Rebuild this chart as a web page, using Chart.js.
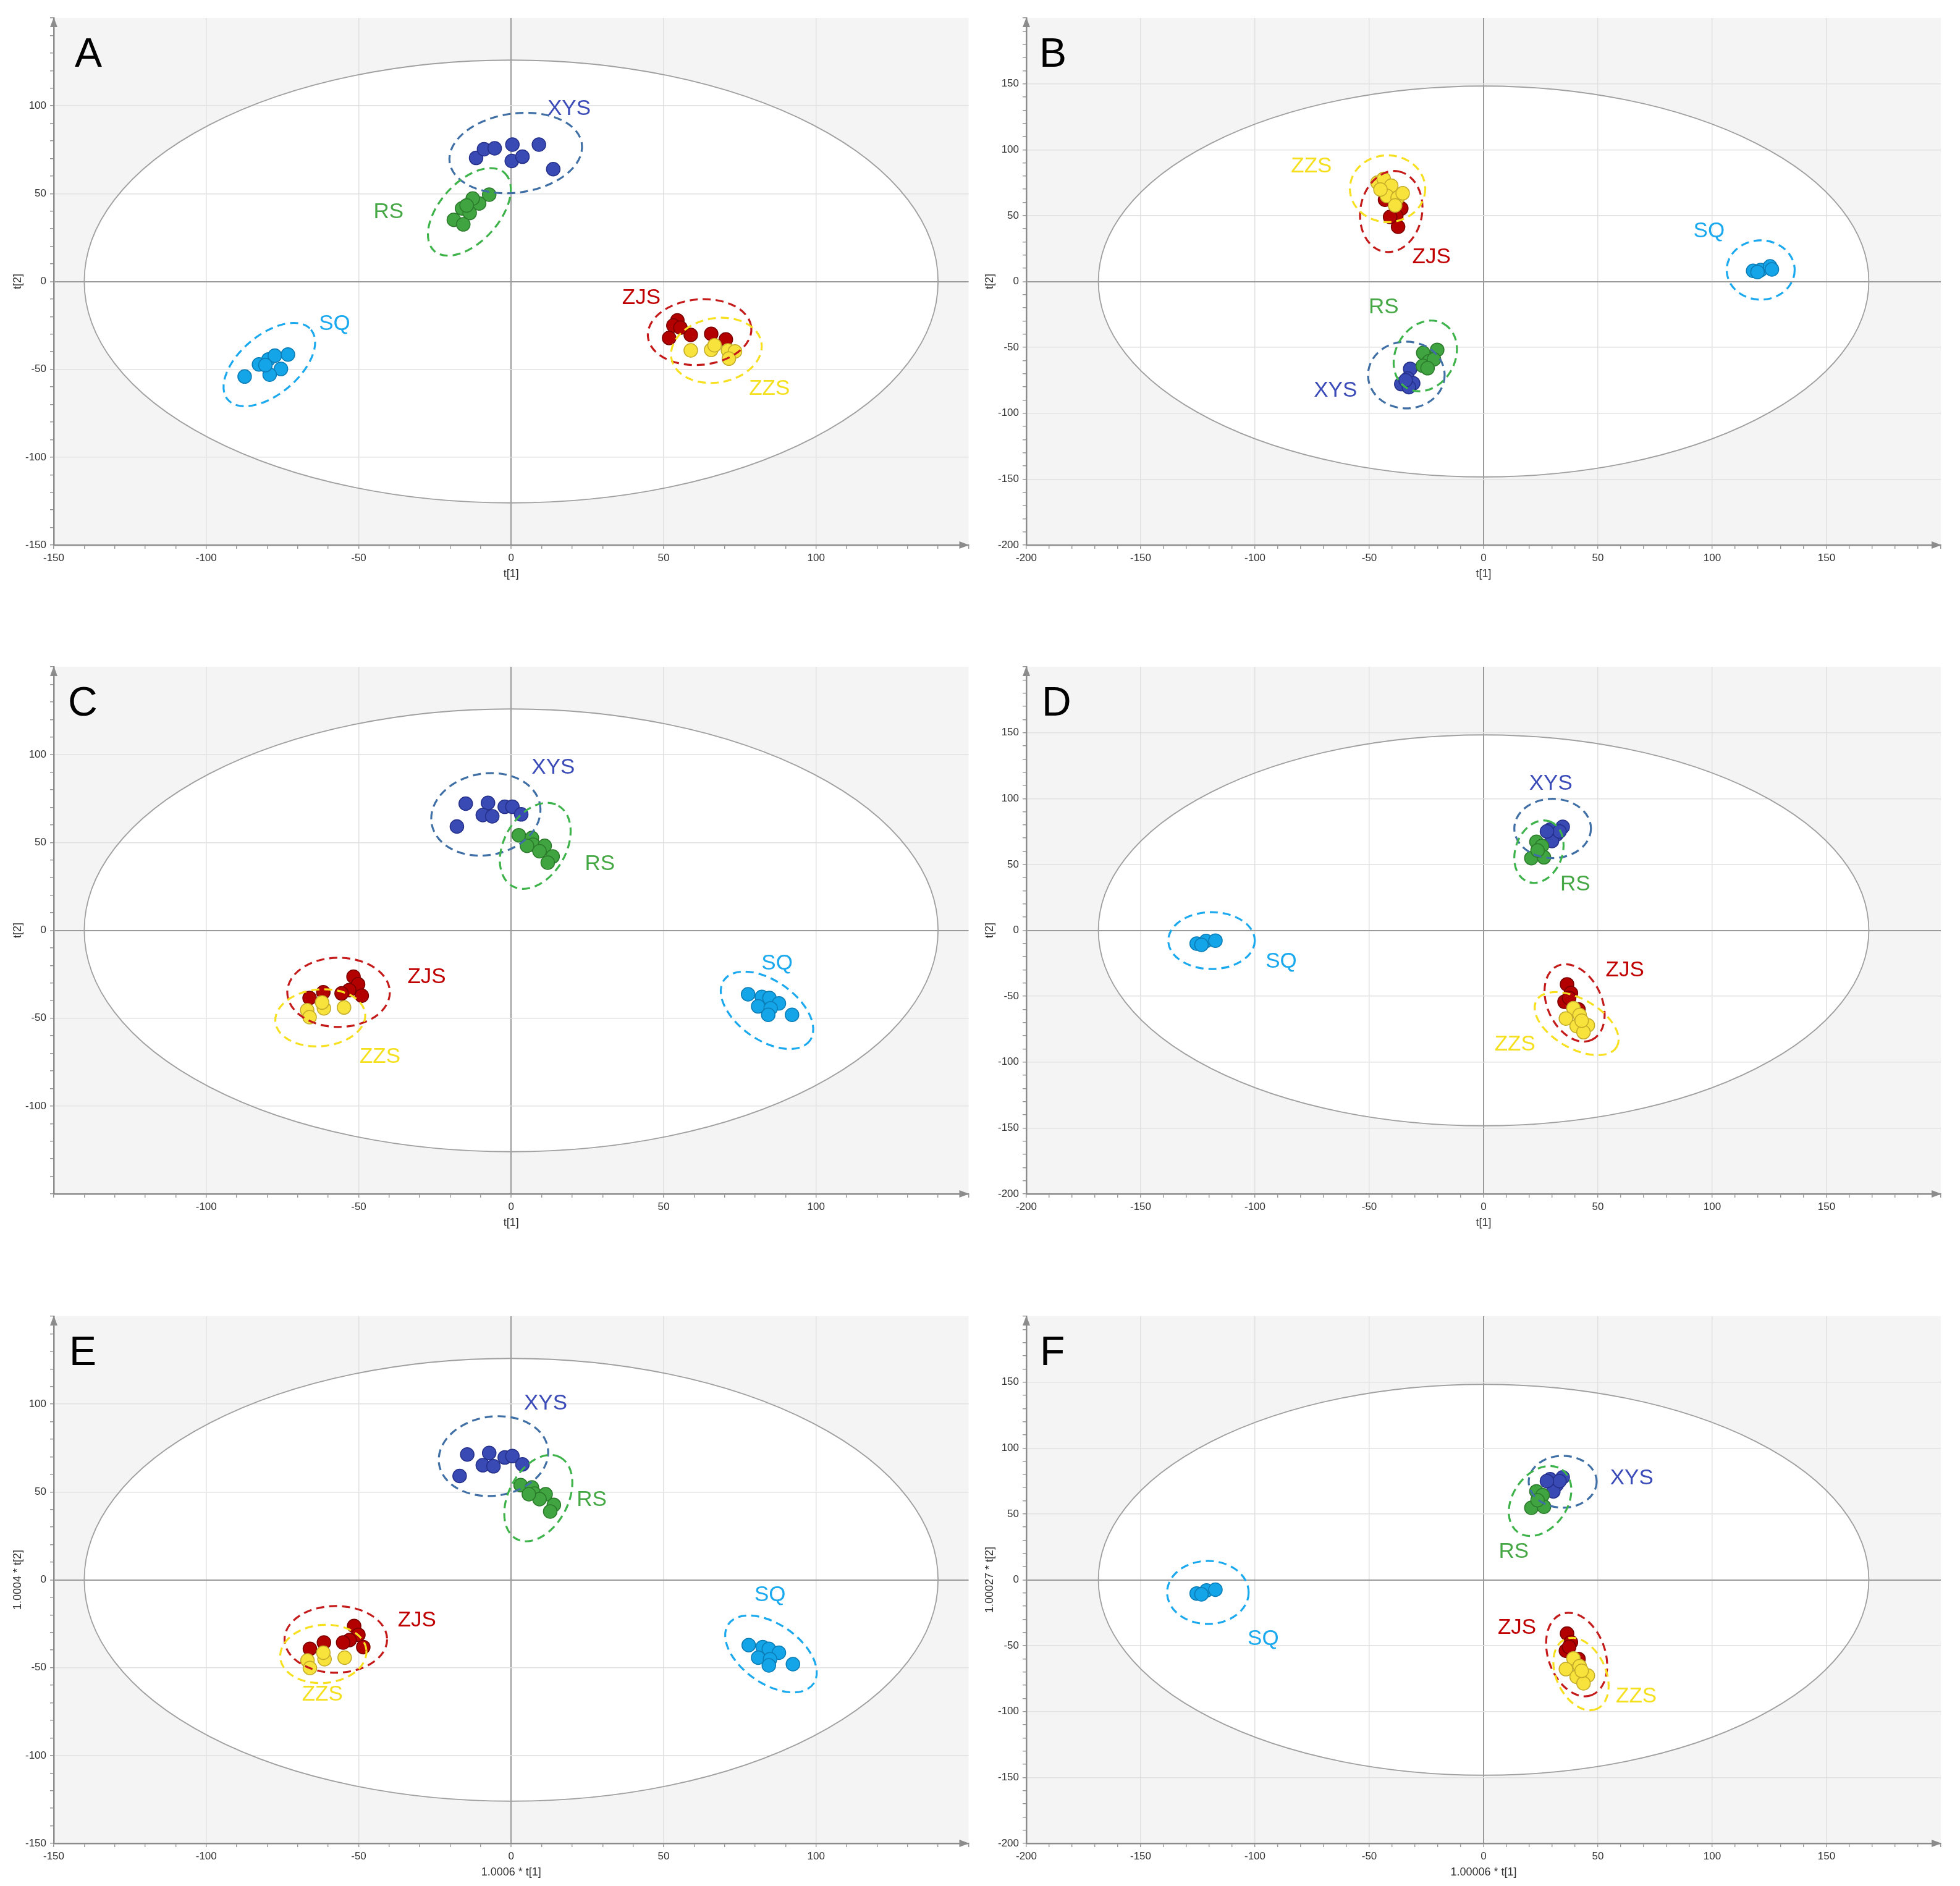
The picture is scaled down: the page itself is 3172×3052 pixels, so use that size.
<!DOCTYPE html>
<html><head><meta charset="utf-8">
<script src="https://cdn.jsdelivr.net/npm/chart.js@4.4.0/dist/chart.umd.min.js"></script>
<style>
html,body{margin:0;padding:0;background:#fff;}
body{width:3172px;height:3052px;position:relative;overflow:hidden;}
canvas{position:absolute;}
</style></head><body>
<script>
// ---------------- DATA ----------------
const groups = ['ZZS','ZJS','RS','XYS','SQ'];

// Panel A
const A_XYS = [[-11.5,70.3],[-8.9,75.3],[-5.4,75.8],[0.4,77.9],[9.1,77.9],[0.2,68.6],[3.7,71.0],[13.8,63.9]];
const A_RS  = [[-7.2,49.4],[-10.5,44.4],[-12.6,47.2],[-16.1,41.6],[-13.6,39.0],[-18.8,35.1],[-15.7,32.5],[-14.6,43.3]];
const A_SQ  = [[-87.4,-54.1],[-82.7,-47.2],[-79.6,-44.4],[-77.5,-42.2],[-73.2,-41.6],[-75.5,-49.8],[-79.2,-53.0],[-80.6,-47.6]];
const A_ZJS = [[54.5,-22.2],[53.2,-25.1],[51.8,-32.2],[58.9,-30.4],[65.6,-29.8],[70.4,-33.0],[55.5,-26.3]];
const A_ZZS = [[58.9,-39.2],[65.6,-38.9],[66.7,-36.3],[71.1,-39.2],[73.4,-39.8],[71.4,-43.9]];

// Panel B
const B_XYS = [[-32.1,-66.3],[-33.2,-73.6],[-36.0,-77.9],[-30.8,-77.3],[-32.7,-80.2],[-34.1,-75.0]];
const B_RS  = [[-20.3,-51.9],[-26.4,-54.2],[-23.9,-60.6],[-26.6,-64.0],[-21.7,-59.1],[-24.5,-65.8]];
const B_SQ  = [[117.9,8.1],[121.2,8.7],[125.3,11.5],[126.1,9.2],[119.8,7.2]];
const B_ZJS = [[-44.2,71.5],[-36.0,55.4],[-38.2,49.6],[-37.4,41.5],[-40.9,49.0],[-43.1,62.0]];
const B_ZZS = [[-46.4,75.0],[-43.7,77.9],[-40.4,72.7],[-42.3,64.9],[-37.6,63.5],[-35.4,66.9],[-38.7,57.7],[-45.1,69.8]];

// Panel C
const C_XYS = [[-14.9,72.1],[-7.6,72.5],[-9.3,65.6],[-6.2,64.9],[-2.1,70.3],[0.4,70.3],[3.3,66.0],[-17.8,59.1]];
const C_RS  = [[2.5,54.1],[6.8,52.6],[7.2,48.7],[11.0,48.1],[9.3,45.0],[13.6,42.0],[12.0,38.5],[5.2,48.1]];
const C_SQ  = [[77.7,-36.4],[82.2,-37.9],[84.7,-38.5],[87.8,-41.6],[81.0,-43.3],[85.1,-44.4],[84.3,-48.1],[92.1,-48.1]];
const C_ZJS = [[-51.7,-26.4],[-50.2,-30.7],[-53.1,-34.0],[-49.0,-37.2],[-55.6,-35.9],[-61.6,-35.3],[-66.1,-38.5]];
const C_ZZS = [[-54.8,-43.9],[-61.4,-44.4],[-62.0,-41.1],[-66.9,-45.5],[-66.1,-49.4]];

// Panel D
const D_XYS = [[29.1,76.4],[34.6,78.5],[31.9,72.7],[29.9,67.8],[33.2,75.0],[27.7,75.0]];
const D_RS  = [[23.1,67.2],[25.5,64.0],[20.9,54.8],[26.4,55.4],[23.6,60.6]];
const D_SQ  = [[-125.5,-10.1],[-121.4,-8.1],[-117.3,-7.8],[-123.4,-11.0]];
const D_ZJS = [[36.5,-41.0],[38.2,-47.6],[35.4,-54.2],[41.5,-60.0],[37.4,-51.3]];
const D_ZZS = [[39.3,-59.1],[36.0,-66.9],[42.0,-64.3],[40.7,-72.7],[45.6,-72.1],[43.7,-77.3],[42.9,-68.6]];

// Panel E
const E_XYS = [[-14.4,71.3],[-7.2,72.2],[-9.3,65.2],[-5.8,64.6],[-2.1,69.6],[0.4,70.4],[3.7,65.7],[-16.9,59.1]];
const E_RS  = [[3.1,53.9],[6.8,52.6],[7.6,49.1],[11.3,48.7],[9.3,45.9],[14.0,42.6],[12.8,38.9],[5.8,48.7]];
const E_SQ  = [[77.9,-37.2],[82.5,-38.3],[84.5,-39.3],[87.8,-41.5],[81.0,-44.3],[84.9,-45.2],[84.5,-48.7],[92.4,-48.0]];
const E_ZJS = [[-51.5,-26.3],[-50.1,-31.3],[-53.0,-34.3],[-48.5,-38.3],[-55.1,-35.7],[-61.4,-35.7],[-66.0,-39.3]];
const E_ZZS = [[-54.6,-44.3],[-61.2,-45.2],[-61.6,-41.5],[-66.8,-45.9],[-66.0,-50.2]];

// Panel F
const F_XYS = [[29.1,76.3],[34.6,77.7],[31.9,72.0],[30.5,67.1],[33.2,74.9],[27.7,74.9]];
const F_RS  = [[23.1,67.1],[25.8,64.2],[20.9,54.6],[26.4,55.5],[23.6,60.4]];
const F_SQ  = [[-125.5,-10.4],[-121.2,-8.1],[-117.3,-7.5],[-123.4,-11.0]];
const F_ZJS = [[36.5,-40.8],[38.2,-47.4],[36.0,-53.8],[41.5,-60.1],[37.4,-51.0]];
const F_ZZS = [[39.3,-59.7],[36.0,-67.8],[42.0,-65.5],[40.7,-73.6],[45.6,-72.7],[43.7,-78.5],[42.9,-69.1]];

// Tick labels
const ticks150 = [-150,-100,-50,0,50,100];
const ticks100 = [-100,-50,0,50,100];
const ticks200 = [-200,-150,-100,-50,0,50,100,150];

// Hotelling T2 ellipse semi-axes (t1, t2)
const t2A = [140,126], t2B = [168.5,148.3];

// Group label anchor points (data coordinates)
const labA = {XYS:[19.0,98.3], RS:[-40.2,39.6], SQ:[-57.9,-24.2], ZJS:[42.7,-9.3], ZZS:[84.7,-61.0]};
const labB = {XYS:[-64.8,-83.1], RS:[-43.7,-19.6], SQ:[98.6,38.1], ZJS:[-22.8,18.5], ZZS:[-75.3,87.4]};
const labC = {XYS:[13.8,92.6], RS:[29.1,37.7], SQ:[87.2,-19.0], ZJS:[-27.7,-26.8], ZZS:[-43.0,-71.9]};
const labD = {XYS:[29.4,111.0], RS:[40.1,34.6], SQ:[-88.5,-23.9], ZJS:[61.8,-30.3], ZZS:[13.7,-86.5]};
const labE = {XYS:[11.3,100.4], RS:[26.4,45.4], SQ:[84.9,-8.9], ZJS:[-30.9,-23.0], ZZS:[-61.9,-65.4]};
const labF = {XYS:[64.8,77.1], RS:[13.2,21.4], SQ:[-96.4,-45.1], ZJS:[14.6,-36.5], ZZS:[66.8,-88.7]};

// Group confidence ellipse centres (data coordinates)
const ctrA = {XYS:[1.5,73.1], RS:[-13.7,39.6], SQ:[-79.3,-47.3], ZJS:[61.8,-28.8], ZZS:[67.3,-39.2]};
const ctrB = {XYS:[-33.8,-71.0], RS:[-25.5,-56.5], SQ:[121.2,8.7], ZJS:[-40.4,53.1], ZZS:[-42.0,70.4]};
const ctrC = {XYS:[-8.3,66.0], RS:[7.9,48.1], SQ:[83.9,-45.5], ZJS:[-56.6,-35.3], ZZS:[-62.6,-49.8]};
const ctrD = {XYS:[30.2,77.3], RS:[24.2,59.7], SQ:[-119,-7.8], ZJS:[39.8,-55.1], ZZS:[40.7,-70.8]};
const ctrE = {XYS:[-5.8,70.4], RS:[8.9,46.5], SQ:[85.2,-42.2], ZJS:[-57.5,-33.9], ZZS:[-61.6,-42.2]};
const ctrF = {XYS:[34.6,74.4], RS:[24.7,59.8], SQ:[-120.6,-9.6], ZJS:[40.7,-56.7], ZZS:[42.6,-71.5]};

// ---------------- STYLE ----------------
const style = {
  XYS:{fill:'#3a4ab5', border:'#24308a', text:'#3b4bb8', dash:'#3f6fa5'},
  RS: {fill:'#40a540', border:'#2b7a2b', text:'#45a845', dash:'#3db34a'},
  SQ: {fill:'#14a4e8', border:'#0b7cb5', text:'#1aa9ee', dash:'#1aa9ee'},
  ZJS:{fill:'#b30000', border:'#7a0000', text:'#c00000', dash:'#c41a1a'},
  ZZS:{fill:'#f7e33b', border:'#c4ac2a', text:'#f5e020', dash:'#f7e020'}
};
// ellipse shapes in px: [semi-major, semi-minor, rotation deg]
const shpA = {XYS:[108,64,-8], RS:[85,48,-48], SQ:[88,48,-40], ZJS:[84,53,-5], ZZS:[74,52,-10]};
const shpB = {XYS:[62,54,0], RS:[60,48,-60], SQ:[55,48,0], ZJS:[66,50,-80], ZZS:[61,54,0]};
const shpC = {XYS:[89,66,-10], RS:[75,50,-60], SQ:[85,48,35], ZJS:[83,56,0], ZZS:[73,46,-5]};
const shpD = {XYS:[62,48,0], RS:[52,38,-70], SQ:[70,46,0], ZJS:[66,44,65], ZZS:[75,40,30]};
const shpE = {XYS:[89,64,-8], RS:[75,48,-62], SQ:[84,48,35], ZJS:[83,54,0], ZZS:[70,47,-5]};
const shpF = {XYS:[55,42,0], RS:[62,44,-55], SQ:[66,51,0], ZJS:[70,46,70], ZZS:[62,40,65]};

const FONT = "'Liberation Sans', Arial, sans-serif";

const panels = [
  {L:'A', left:0,    top:0,    w:1580, yW:87, rp:12, xr:[-150,150], yr:[-150,150], t2:t2A, xt:'t[1]', yt:'t[2]', xl:ticks150, yl:ticks150, pts:{XYS:A_XYS,RS:A_RS,SQ:A_SQ,ZJS:A_ZJS,ZZS:A_ZZS}, lab:labA, ctr:ctrA, shp:shpA, ldx:34, ypad:18},
  {L:'B', left:1580, top:0,    w:1592, yW:81, rp:31, xr:[-200,200], yr:[-200,200], t2:t2B, xt:'t[1]', yt:'t[2]', xl:ticks200, yl:ticks200, pts:{XYS:B_XYS,RS:B_RS,SQ:B_SQ,ZJS:B_ZJS,ZZS:B_ZZS}, lab:labB, ctr:ctrB, shp:shpB, ldx:21, ypad:11},
  {L:'C', left:0,    top:1050, w:1580, yW:87, rp:12, xr:[-150,150], yr:[-150,150], t2:t2A, xt:'t[1]', yt:'t[2]', xl:ticks100, yl:ticks100, pts:{XYS:C_XYS,RS:C_RS,SQ:C_SQ,ZJS:C_ZJS,ZZS:C_ZZS}, lab:labC, ctr:ctrC, shp:shpC, ldx:23, ypad:18},
  {L:'D', left:1580, top:1050, w:1592, yW:81, rp:31, xr:[-200,200], yr:[-200,200], t2:t2B, xt:'t[1]', yt:'t[2]', xl:ticks200, yl:ticks200, pts:{XYS:D_XYS,RS:D_RS,SQ:D_SQ,ZJS:D_ZJS,ZZS:D_ZZS}, lab:labD, ctr:ctrD, shp:shpD, ldx:25, ypad:11},
  {L:'E', left:0,    top:2101, w:1580, yW:87, rp:12, xr:[-150,150], yr:[-150,150], t2:t2A, xt:'1.0006 * t[1]', yt:'1.0004 * t[2]', xl:ticks150, yl:ticks150, pts:{XYS:E_XYS,RS:E_RS,SQ:E_SQ,ZJS:E_ZJS,ZZS:E_ZZS}, lab:labE, ctr:ctrE, shp:shpE, ldx:25, ypad:18},
  {L:'F', left:1580, top:2101, w:1592, yW:81, rp:31, xr:[-200,200], yr:[-200,200], t2:t2B, xt:'1.00006 * t[1]', yt:'1.00027 * t[2]', xl:ticks200, yl:ticks200, pts:{XYS:F_XYS,RS:F_RS,SQ:F_SQ,ZJS:F_ZJS,ZZS:F_ZZS}, lab:labF, ctr:ctrF, shp:shpF, ldx:22, ypad:11}
];

const decor = {
  id:'decor',
  beforeDraw(chart){
    const p = chart.$panel; if(!p) return;
    const {ctx, chartArea:ca, scales:{x,y}} = chart;
    ctx.save();
    ctx.fillStyle = '#f4f4f4';
    ctx.fillRect(ca.left, ca.top, ca.right-ca.left, ca.bottom-ca.top);
    const cx = x.getPixelForValue(0), cy = y.getPixelForValue(0);
    const rx = Math.abs(x.getPixelForValue(p.t2[0]) - cx), ry = Math.abs(y.getPixelForValue(p.t2[1]) - cy);
    ctx.beginPath(); ctx.ellipse(cx, cy, rx, ry, 0, 0, Math.PI*2);
    ctx.fillStyle = '#ffffff'; ctx.fill();
    ctx.restore();
  },
  beforeDatasetsDraw(chart){
    const p = chart.$panel; if(!p) return;
    const {ctx, scales:{x,y}} = chart;
    ctx.save();
    const cx = x.getPixelForValue(0), cy = y.getPixelForValue(0);
    const rx = Math.abs(x.getPixelForValue(p.t2[0]) - cx), ry = Math.abs(y.getPixelForValue(p.t2[1]) - cy);
    ctx.beginPath(); ctx.ellipse(cx, cy, rx, ry, 0, 0, Math.PI*2);
    ctx.strokeStyle = '#a0a0a0'; ctx.lineWidth = 1.8; ctx.stroke();
    ctx.restore();
  },
  afterDatasetsDraw(chart){
    const p = chart.$panel; if(!p) return;
    const {ctx, chartArea:ca, scales:{x,y}} = chart;
    ctx.save();
    ctx.lineWidth = 3.2;
    ctx.setLineDash([13,8]);
    for (const g of ['XYS','RS','SQ','ZJS','ZZS']) {
      const c = p.ctr[g], s = p.shp[g];
      ctx.beginPath();
      ctx.ellipse(x.getPixelForValue(c[0]), y.getPixelForValue(c[1]), s[0], s[1], s[2]*Math.PI/180, 0, Math.PI*2);
      ctx.strokeStyle = style[g].dash; ctx.stroke();
    }
    ctx.setLineDash([]);
    ctx.font = '35px ' + FONT;
    ctx.textAlign = 'center'; ctx.textBaseline = 'middle';
    for (const g of ['XYS','RS','SQ','ZJS','ZZS']) {
      const l = p.lab[g];
      ctx.fillStyle = style[g].text;
      ctx.fillText(g, x.getPixelForValue(l[0]), y.getPixelForValue(l[1]));
    }
    ctx.fillStyle = '#8c8c8c';
    ctx.beginPath();
    ctx.moveTo(ca.right+1, ca.bottom); ctx.lineTo(ca.right-15, ca.bottom-6); ctx.lineTo(ca.right-15, ca.bottom+6); ctx.closePath(); ctx.fill();
    ctx.beginPath();
    ctx.moveTo(ca.left, ca.top-1); ctx.lineTo(ca.left-6, ca.top+15); ctx.lineTo(ca.left+6, ca.top+15); ctx.closePath(); ctx.fill();
    ctx.fillStyle = '#000';
    ctx.font = '66px ' + FONT;
    ctx.textAlign = 'left'; ctx.textBaseline = 'alphabetic';
    ctx.fillText(p.L, ca.left + p.ldx, ca.top + 79);
    ctx.restore();
  }
};
Chart.register(decor);

const gridColor = c => {
  if (!c.tick) return 'rgba(0,0,0,0)';
  const v = c.tick.value;
  if (v === c.scale.max || v === c.scale.min) return 'rgba(0,0,0,0)';
  if (v === 0) return '#9a9a9a';
  return (Math.abs(v % 50) < 1e-9) ? '#e1e1e1' : 'rgba(0,0,0,0)';
};
const gridWidth = c => (c.tick && c.tick.value === 0) ? 2 : 1.5;

for (const p of panels) {
  const cv = document.createElement('canvas');
  cv.width = p.w; cv.height = 950;
  cv.style.left = p.left + 'px'; cv.style.top = p.top + 'px';
  cv.style.width = p.w + 'px'; cv.style.height = '950px';
  document.body.appendChild(cv);
  const datasets = groups.map(g => ({
    label: g,
    data: p.pts[g].map(([a,b]) => ({x:a, y:b})),
    backgroundColor: style[g].fill,
    borderColor: style[g].border,
    pointRadius: 11,
    pointBorderWidth: 1.5,
    pointHoverRadius: 11
  }));
  const axisCommon = (rng, labels, title, isX) => ({
    type:'linear', min:rng[0], max:rng[1],
    afterFit: s => { if (isX) s.height = 68; else s.width = p.yW; },
    border:{display:true, color:'#8c8c8c', width:2.5},
    grid:{color:gridColor, lineWidth:gridWidth, tickColor:'#8c8c8c', tickLength:6, tickWidth:1.3, drawTicks:true},
    ticks:{stepSize:10, autoSkip:false, maxRotation:0, minRotation:0, padding: isX ? 5 : 6,
      color:'#333', font:{family:FONT, size:17},
      callback: v => labels.includes(v) ? String(v) : ''},
    title:{display:true, text:title, color:'#333', font:{family:FONT, size:18},
      padding: isX ? {top:0, bottom:10} : {top:p.ypad, bottom:0}}
  });
  const chart = new Chart(cv, {
    type:'scatter',
    data:{datasets},
    options:{
      responsive:false, animation:false, devicePixelRatio:1, events:[],
      layout:{padding:{left:0, top:29, right:p.rp, bottom:0}},
      plugins:{legend:{display:false}, tooltip:{enabled:false}},
      scales:{
        x: axisCommon(p.xr, p.xl, p.xt, true),
        y: axisCommon(p.yr, p.yl, p.yt, false)
      }
    }
  });
  chart.$panel = p;
  chart.draw();
}
</script>
</body></html>
